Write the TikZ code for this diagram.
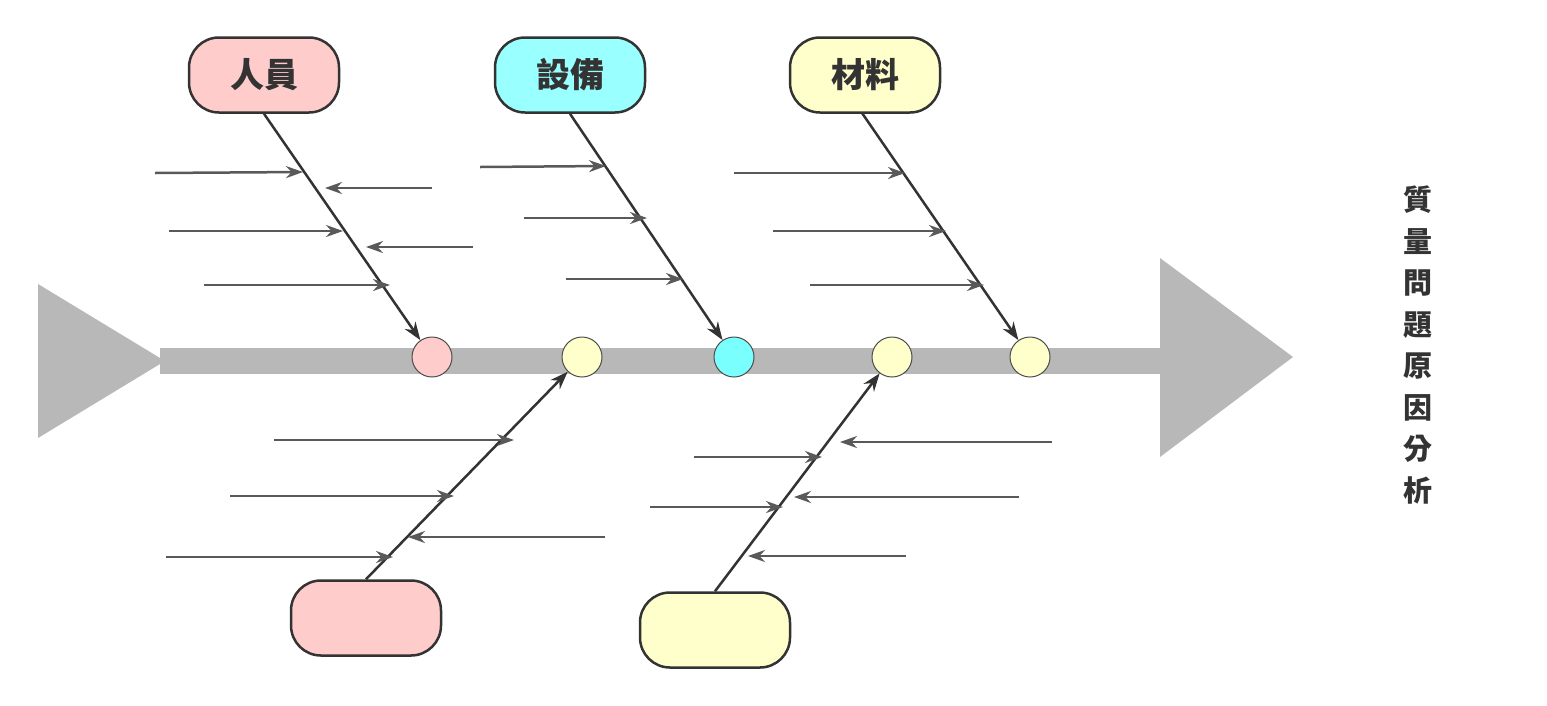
\documentclass[tikz,border=0pt]{standalone}
\usepackage{fontspec}
\newfontfamily\cjk{Noto Sans CJK TC}[BoldFont={* Black}]
\usetikzlibrary{arrows.meta}
\definecolor{bandc}{HTML}{B8B8B8}
\definecolor{pinkc}{HTML}{FFCCCC}
\definecolor{cyanc}{HTML}{99FFFF}
\definecolor{yelc}{HTML}{FFFFCC}
\definecolor{dark}{HTML}{333333}
\begin{document}
\begin{tikzpicture}[x=1pt,y=-1pt,
 box/.style={draw=dark,line width=2.5pt,rounded corners=30pt,minimum width=150pt,minimum height=75pt,font=\cjk\bfseries\fontsize{34}{40}\selectfont,text=dark},
 dot/.style={circle,draw=black!70,line width=1pt,minimum size=40pt,inner sep=0pt},
 bone/.style={draw=dark,line width=2.5pt,-{Stealth[length=18pt,width=13pt]}},
 twig/.style={draw=black!65,line width=2.5pt,-{Stealth[length=17pt,width=12pt]}}]
\useasboundingbox (0,0) rectangle (1547,705);
% spine
\fill[bandc] (160,348) rectangle (1162,374);
\fill[bandc] (38,284) -- (165,361) -- (38,438) -- cycle;
\fill[bandc] (1160,258) -- (1293,357) -- (1160,457) -- cycle;
% dots
\node[dot,fill=pinkc] (d1) at (432,357) {};
\node[dot,fill=yelc] (d2) at (582,357) {};
\node[dot,fill=cyanc!80!cyan] (d3) at (734,357) {};
\node[dot,fill=yelc] (d4) at (892,357) {};
\node[dot,fill=yelc] (d5) at (1030,357) {};
% boxes
\node[box,fill=pinkc] (b1) at (264,75) {人員};
\node[box,fill=cyanc] (b2) at (570,75) {設備};
\node[box,fill=yelc] (b3) at (865,75) {材料};
\node[box,fill=pinkc] (b4) at (366,618) {};
\node[box,fill=yelc] (b5) at (715,630) {};
% bones
\draw[bone] (b1.south) -- (d1);
\draw[bone] (b2.south) -- (d3);
\draw[bone] (862,113) coordinate (t3) -- (d5);
\draw[bone] (b4.north) -- (d2);
\draw[bone] (b5.north) -- (d4);
% twigs
\foreach \a/\b/\c/\d in {155/173/303/172, 432/188/325/188, 169/231/343/231, 473/247/366/247, 204/285/390/285,
 480/167/606/166, 524/218/647/218, 566/279/683/279,
 734/173/905/173, 773/231/946/231, 810/285/984/285,
 274/440/514/440, 230/496/454/496, 605/537/408/537, 166/557/393/557,
 1052/442/840/442, 694/457/822/457, 1019/497/794/497, 650/507/783/507, 906/556/748/556}
 {\coordinate (s) at (\a,\b); \coordinate (e) at (\c,\d); \draw[twig] (s) -- (e);}
% title
\node[font=\cjk\bfseries\fontsize{29}{41.5}\selectfont,text=dark,align=center,inner sep=0pt] (title) at (1418,345)
 {質\\量\\問\\題\\原\\因\\分\\析};
\end{tikzpicture}
\end{document}
